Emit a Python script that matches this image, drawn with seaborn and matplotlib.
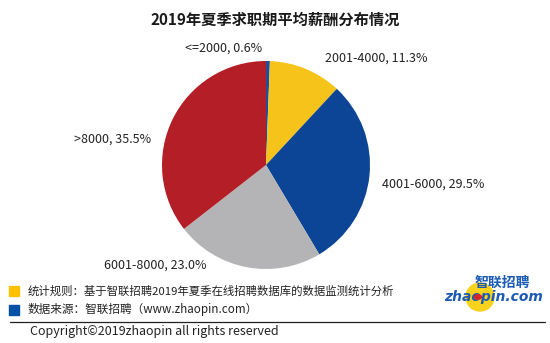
import matplotlib
matplotlib.use("Agg")
import matplotlib.pyplot as plt
from matplotlib.patches import Rectangle, Ellipse, Circle
import seaborn as sns

sns.set_theme(style="white")
plt.rcParams["font.family"] = ["Noto Sans CJK SC", "DejaVu Sans"]

# Salary brackets and their share of job seekers (%)
categories = ["<=2000", "2001-4000", "4001-6000", "6001-8000", ">8000"]
shares = [0.6, 11.3, 29.5, 23.0, 35.5]
colors = sns.color_palette(["#1F4E9C", "#F5C31A", "#0C4595", "#B4B4B6", "#B41F27"])

title = "2019年夏季求职期平均薪酬分布情况"
note_rule = "统计规则：基于智联招聘2019年夏季在线招聘数据库的数据监测统计分析"
note_source = "数据来源：智联招聘（www.zhaopin.com）"
copyright_text = "Copyright©2019zhaopin all rights reserved"

W, H = 550, 343
fig = plt.figure(figsize=(W / 100, H / 100), dpi=100)
fig.patch.set_facecolor("white")

# Pie axes: centre (266,165) px, radius 104 px
cx, cy, r = 266, 165, 104
ax = fig.add_axes([(cx - r) / W, (H - cy - r) / H, 2 * r / W, 2 * r / H])
wedges, _ = ax.pie(shares, colors=colors, startangle=90, counterclock=False,
                   wedgeprops=dict(linewidth=0))
ax.set_xlim(-1, 1)
ax.set_ylim(-1, 1)
ax.set_aspect("equal")

# label anchors (in pie-radius units) and alignment
label_pos = [(-0.04, 1.12, "right"), (0.57, 1.03, "left"), (1.12, -0.18, "left"),
             (-0.57, -0.96, "right"), (-1.10, 0.25, "right")]
for cat, val, (lx, ly, ha) in zip(categories, shares, label_pos):
    ax.text(lx, ly, f"{cat}, {val:.1f}%", ha=ha, va="center", fontsize=9,
            color="#222222", clip_on=False)

fig.text(275 / W, 1 - 20 / H, title, ha="center", va="center",
         fontsize=11, fontweight="bold", color="#1a1a1a")

# footnotes with colour keys
fig.add_artist(Rectangle((9 / W, 1 - 296 / H), 10 / W, 10 / H,
                         transform=fig.transFigure, color="#FFC000"))
fig.add_artist(Rectangle((9 / W, 1 - 315 / H), 10 / W, 10 / H,
                         transform=fig.transFigure, color="#0050A8"))
fig.text(28 / W, 1 - 291 / H, note_rule, ha="left", va="center", fontsize=8.2, color="#222222")
fig.text(28 / W, 1 - 310 / H, note_source, ha="left", va="center", fontsize=8.4, color="#222222")
fig.add_artist(plt.Line2D([10 / W, 545 / W], [1 - 322 / H, 1 - 322 / H],
                          transform=fig.transFigure, color="#222222", linewidth=0.9))
fig.text(30 / W, 1 - 331 / H, copyright_text, ha="left", va="center", fontsize=9, color="#222222")

# brand mark
fig.add_artist(Ellipse((480 / W, 1 - 297 / H), 28 / W, 28 / H,
                       transform=fig.transFigure, color="#F9D21C", zorder=1))
fig.text(502 / W, 1 - 283 / H, "智联招聘", ha="center", va="center", fontsize=10,
         fontweight="bold", color="#1C5BB5", zorder=3)
fig.text(494 / W, 1 - 297 / H, "zhaopin.com", ha="center", va="center", fontsize=10,
         fontweight="bold", fontstyle="italic", color="#1C5BB5", zorder=3,
         family="DejaVu Sans")
fig.add_artist(Circle((478 / W, 1 - 297 / H), 3.5 / W, transform=fig.transFigure,
                      color="#D7262A", zorder=4))

fig.savefig("out.png", dpi=100, facecolor="white")
